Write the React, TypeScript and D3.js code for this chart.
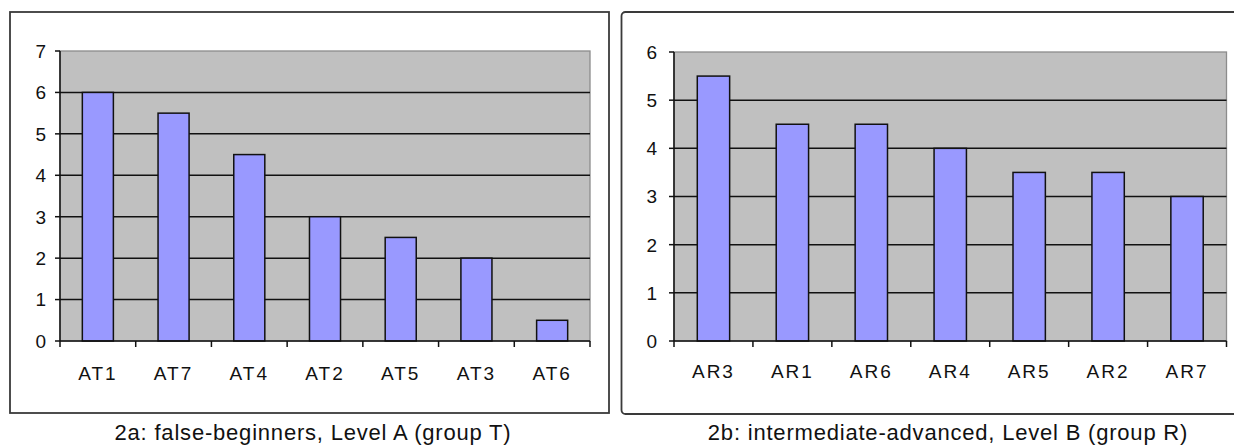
import React from "react";
import { scaleBand, scaleLinear, range } from "d3";

const leftCategories = ["AT1", "AT7", "AT4", "AT2", "AT5", "AT3", "AT6"];
const leftValues = [6, 5.5, 4.5, 3, 2.5, 2, 0.5];
const leftTicks = [0, 1, 2, 3, 4, 5, 6, 7];
const leftCaption = "2a: false-beginners, Level A (group T)";

const rightCategories = ["AR3", "AR1", "AR6", "AR4", "AR5", "AR2", "AR7"];
const rightValues = [5.5, 4.5, 4.5, 4, 3.5, 3.5, 3];
const rightTicks = [0, 1, 2, 3, 4, 5, 6];
const rightCaption = "2b: intermediate-advanced, Level B (group R)";

const font = "'Liberation Sans', Arial, sans-serif";

type PanelProps = {
  frame: { x: number; y: number; w: number; h: number; rx: number };
  plot: { x0: number; x1: number; y0: number; y1: number };
  labelX: number;
  catBaseline: number;
  captionX: number;
  captionY: number;
  categories: string[];
  values: number[];
  ticks: number[];
  caption: string;
};

function Panel({ frame, plot, labelX, catBaseline, captionX, captionY, categories, values, ticks, caption }: PanelProps) {
  const x = scaleBand<string>().domain(categories).range([plot.x0, plot.x1]);
  const y = scaleLinear()
    .domain([0, ticks[ticks.length - 1]])
    .range([plot.y1, plot.y0]);
  const bw = x.bandwidth();
  const barW = bw * 0.41;

  return (
    <g>
      <rect
        x={frame.x}
        y={frame.y}
        width={frame.w}
        height={frame.h}
        rx={frame.rx}
        fill="#fff"
        stroke="#3a3a3a"
        strokeWidth={1.8}
      />
      <rect
        x={plot.x0}
        y={plot.y0}
        width={plot.x1 - plot.x0}
        height={plot.y1 - plot.y0}
        fill="#c0c0c0"
        stroke="#8c8c8c"
        strokeWidth={1.3}
      />
      {ticks.slice(1, -1).map((t) => (
        <line key={t} x1={plot.x0} x2={plot.x1} y1={y(t)} y2={y(t)} stroke="#111" strokeWidth={1.5} />
      ))}
      {categories.map((c, i) => {
        const cx = (x(c) ?? 0) + bw / 2;
        return (
          <rect
            key={c}
            x={cx - barW / 2}
            y={y(values[i])}
            width={barW}
            height={plot.y1 - y(values[i])}
            fill="#9999ff"
            stroke="#111"
            strokeWidth={1.5}
          />
        );
      })}
      {/* axes */}
      <line x1={plot.x0} x2={plot.x0} y1={plot.y0} y2={plot.y1} stroke="#111" strokeWidth={1.5} />
      <line x1={plot.x0} x2={plot.x1} y1={plot.y1} y2={plot.y1} stroke="#111" strokeWidth={1.5} />
      {ticks.map((t) => (
        <g key={t}>
          <line x1={plot.x0 - 5} x2={plot.x0} y1={y(t)} y2={y(t)} stroke="#111" strokeWidth={1.5} />
          <text
            x={labelX}
            y={y(t)}
            dy="0.36em"
            textAnchor="end"
            fontFamily={font}
            fontSize={19}
            fill="#111"
          >
            {t}
          </text>
        </g>
      ))}
      {range(categories.length + 1).map((i) => {
        const tx = plot.x0 + i * bw;
        return <line key={i} x1={tx} x2={tx} y1={plot.y1} y2={plot.y1 + 6} stroke="#111" strokeWidth={1.5} />;
      })}
      {categories.map((c) => (
        <text
          key={c}
          x={(x(c) ?? 0) + bw / 2}
          y={catBaseline}
          textAnchor="middle"
          fontFamily={font}
          fontSize={19}
          letterSpacing={2}
          fill="#111"
        >
          {c}
        </text>
      ))}
      <text
        x={captionX}
        y={captionY}
        textAnchor="middle"
        fontFamily={font}
        fontSize={22}
        letterSpacing={0.8}
        fill="#111"
      >
        {caption}
      </text>
    </g>
  );
}

export default function App() {
  return (
    <svg
      width={1234}
      height={446}
      viewBox="0 0 1234 446"
      style={{ position: "absolute", left: 0, top: 0, background: "#fff", overflow: "hidden" }}
    >
      <Panel
        frame={{ x: 10, y: 12, w: 599, h: 401, rx: 0 }}
        plot={{ x0: 60, x1: 590, y0: 51, y1: 341 }}
        labelX={46}
        catBaseline={380}
        captionX={313}
        captionY={440}
        categories={leftCategories}
        values={leftValues}
        ticks={leftTicks}
        caption={leftCaption}
      />
      <Panel
        frame={{ x: 621.5, y: 12, w: 800, h: 402, rx: 4 }}
        plot={{ x0: 674, x1: 1226.5, y0: 52, y1: 341 }}
        labelX={657}
        catBaseline={378}
        captionX={948}
        captionY={440}
        categories={rightCategories}
        values={rightValues}
        ticks={rightTicks}
        caption={rightCaption}
      />
    </svg>
  );
}
